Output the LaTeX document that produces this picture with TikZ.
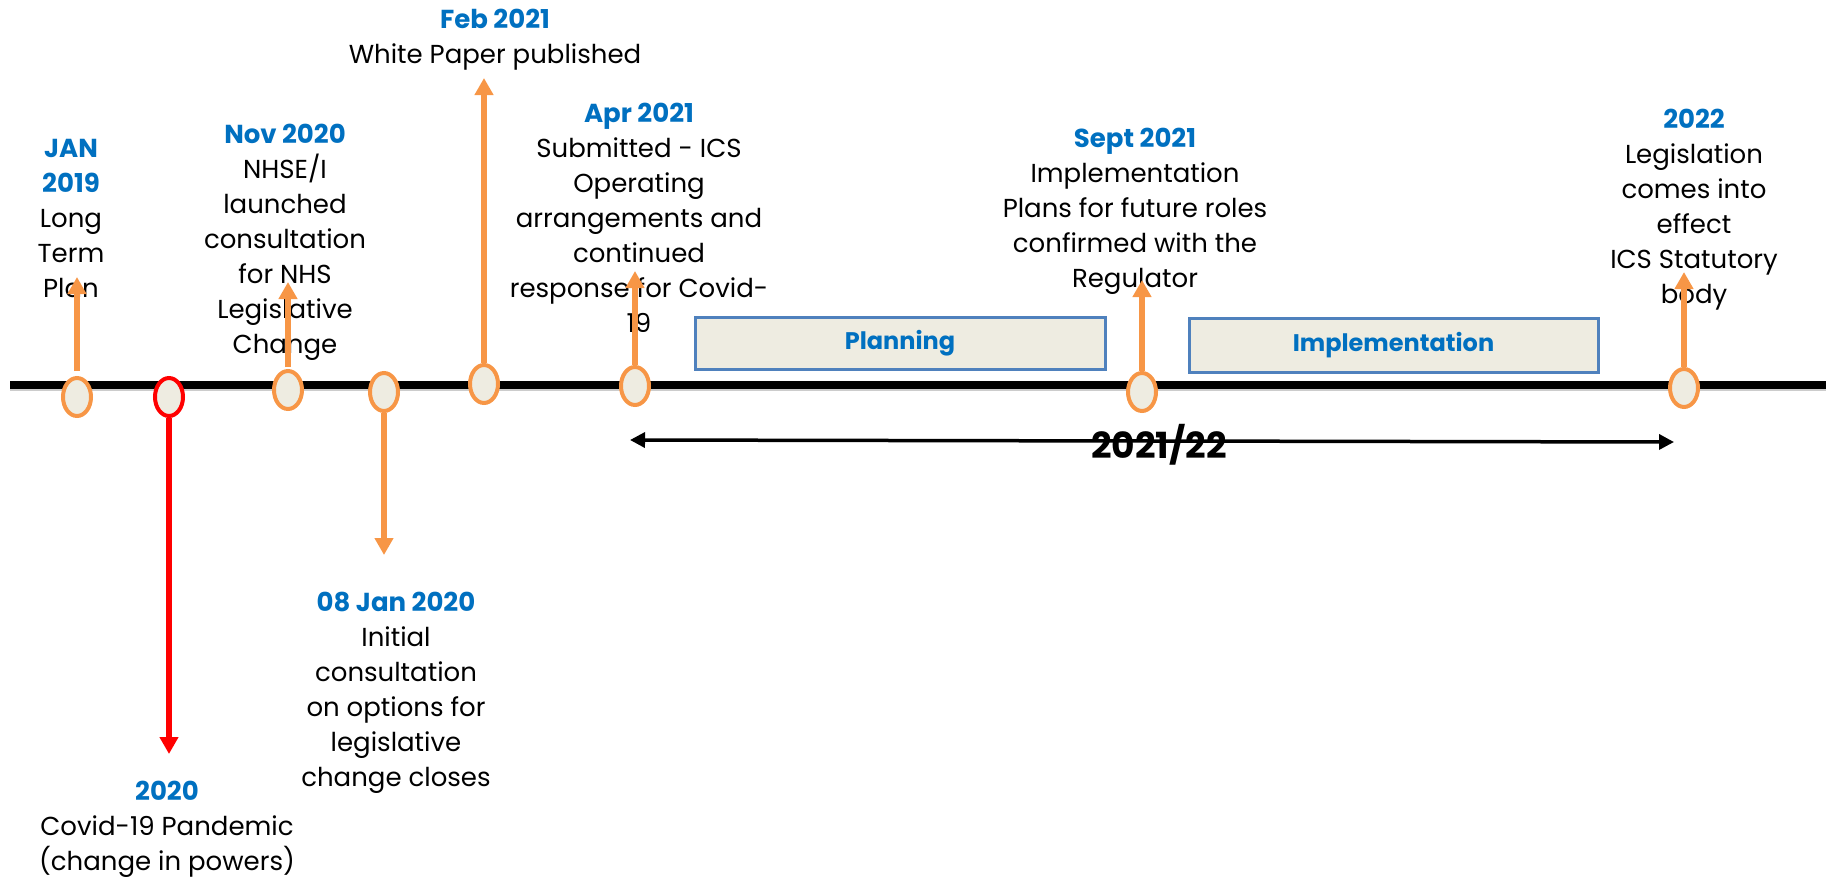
\documentclass[tikz,border=0pt]{standalone}
\usepackage{fontspec}
\setmainfont{Poppins}
\usetikzlibrary{shapes.geometric,arrows.meta}
\definecolor{orng}{HTML}{F79646}
\definecolor{beige}{HTML}{EEECE1}
\definecolor{hblue}{HTML}{0070C0}
\definecolor{bxblue}{HTML}{4F81BD}
\definecolor{redc}{HTML}{FF0000}
\newcommand{\evhd}[1]{{\bfseries\color{hblue}#1}}
\begin{document}
\begin{tikzpicture}[x=1pt,y=-1pt,
  ev/.style={ellipse, draw=orng, line width=4pt, fill=beige, minimum width=28pt, minimum height=38pt, inner sep=0pt},
  redev/.style={ev, draw=redc},
  oarr/.style={draw=orng, line width=6pt, -{Triangle[width=18pt 0,length=17pt 0]}},
  rarr/.style={oarr, draw=redc},
  lbl/.style={align=center, anchor=base, inner sep=0pt, font=\fontsize{26}{35}\selectfont},
  phase/.style={draw=bxblue, line width=3pt, fill=beige, inner sep=0pt, font=\bfseries\fontsize{24}{28}\selectfont, text=hblue},
  span/.style={draw=black, line width=3.5pt, {Triangle[width=15pt 0,length=15pt 0]}-{Triangle[width=15pt 0,length=15pt 0]}}
]
\useasboundingbox (0,0) rectangle (1826,878);
% main timeline
\coordinate (ml) at (10,385);
\coordinate (mr) at (1826,385);
\draw[gray!40, line width=1.5pt] ([yshift=-5pt]ml) -- ([yshift=-5pt]mr);
\draw[line width=7.5pt] (ml) -- (mr);

% phase boxes
\node[phase, minimum width=410pt, minimum height=52pt] (plan) at (900,343) {Planning};
\node[phase, minimum width=409pt, minimum height=54pt] (impl) at (1393.5,345) {Implementation};

% labels (anchor base = baseline of the last line)
\node[lbl] (l1) at (71,297) {\evhd{JAN}\\\evhd{2019}\\Long\\Term\\Plan};
\node[lbl] (l3) at (285,353) {\evhd{Nov 2020}\\NHSE/I\\launched\\consultation\\for NHS\\Legislative\\Change};
\node[lbl] (l5) at (495,63) {\evhd{Feb 2021}\\White Paper published};
\node[lbl] (l6) at (639,332) {\evhd{Apr 2021}\\Submitted - ICS\\Operating\\arrangements and\\continued\\response for Covid-\\19};
\node[lbl] (l7) at (1135,287) {\evhd{Sept 2021}\\Implementation\\Plans for future roles\\confirmed with the\\Regulator};
\node[lbl] (l8) at (1694,303) {\evhd{2022}\\Legislation\\comes into\\effect\\ICS Statutory\\body};
\node[lbl] (l4) at (396,786) {\evhd{08 Jan 2020}\\Initial\\consultation\\on options for\\legislative\\change closes};
\node[lbl] (l2) at (167,870) {\evhd{2020}\\Covid-19 Pandemic\\(change in powers)};

% event ellipses
\node[ev] (e1) at (77,397) {};
\node[redev] (e2) at (169,397) {};
\node[ev] (e3) at (288,390) {};
\node[ev] (e4) at (384,392) {};
\node[ev] (e5) at (484,384) {};
\node[ev] (e6) at (635,386) {};
\node[ev] (e7) at (1142,392) {};
\node[ev] (e8) at (1684,388) {};

% arrow tips
\coordinate (t1) at (77,277);
\coordinate (t2) at (169,754);
\coordinate (t3) at (288,282);
\coordinate (t4) at (384,555);
\coordinate (t5) at (484,78);
\coordinate (t6) at (635,271);
\coordinate (t7) at (1142,280);
\coordinate (t8) at (1684,272);

\draw[oarr, shorten <=5pt] (e1.north) -- (t1);
\draw[rarr] (e2.south) -- (t2);
\draw[oarr, shorten <=2pt] (e3.north) -- (t3);
\draw[oarr] (e4.south) -- (t4);
\draw[oarr] (e5.north) -- (t5);
\draw[oarr] (e6.north) -- (t6);
\draw[oarr] (e7.north) -- (t7);
\draw[oarr] (e8.north) -- (t8);

% 2021/22 span
\coordinate (sl) at (630,440);
\coordinate (sr) at (1674,442);
\draw[span] (sl) -- (sr);
\node[anchor=base, inner sep=0pt, font=\bfseries\fontsize{36}{40}\selectfont] (yr) at (1159,458) {2021/22};
\end{tikzpicture}
\end{document}
